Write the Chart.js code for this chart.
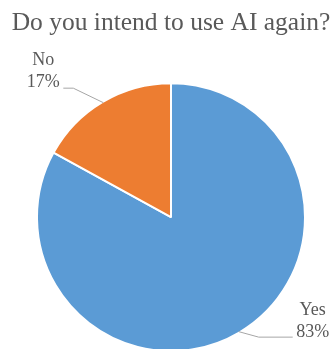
<!DOCTYPE html>
<html lang="en">
<head>
    <meta charset="UTF-8">
    <title>Do you intend to use AI again?</title>
    <script src="https://cdn.jsdelivr.net/npm/chart.js"></script>
    <style>
        body { margin: 0; background: #fff; }
        .box { width: 335px; height: 349px; position: relative; }
    </style>
</head>
<body>
    <div class="box">
        <canvas id="pieChart"></canvas>
    </div>

<script>
    // dados do gráfico
    var categorias = ['Yes', 'No'];
    var valores = [83, 17];
    var cores = ['#5B9BD5', '#ED7D31'];

    var fonte = "'Liberation Serif', 'Times New Roman', serif";

    // posição dos rótulos em relação ao ponto médio da borda de cada fatia
    var rotulos = [
        { elbow: [20, 5.5], end: [54, 5.5], text: [74, -21.5] },
        { elbow: [-30, -14.5], end: [-40, -14.5], text: [-60, -42] }
    ];

    var labelsPlugin = {
        id: 'rotulosPizza',
        afterDatasetsDraw(chart) {
            var ctx = chart.ctx;
            var meta = chart.getDatasetMeta(0);
            var total = valores.reduce((a, b) => a + b, 0);
            meta.data.forEach((arc, i) => {
                var p = arc.getProps(['x', 'y', 'startAngle', 'endAngle', 'outerRadius'], true);
                var mid = (p.startAngle + p.endAngle) / 2;
                var ex = p.x + Math.cos(mid) * (p.outerRadius - 1);
                var ey = p.y + Math.sin(mid) * (p.outerRadius - 1);
                var r = rotulos[i];

                ctx.save();
                ctx.strokeStyle = '#A6A6A6';
                ctx.lineWidth = 1;
                ctx.beginPath();
                ctx.moveTo(ex, ey);
                ctx.lineTo(ex + r.elbow[0], ey + r.elbow[1]);
                ctx.lineTo(ex + r.end[0], ey + r.end[1]);
                ctx.stroke();

                ctx.fillStyle = '#595959';
                ctx.font = '18px ' + fonte;
                ctx.textAlign = 'center';
                ctx.textBaseline = 'middle';
                var pct = Math.round(valores[i] / total * 100) + '%';
                ctx.fillText(categorias[i], ex + r.text[0], ey + r.text[1]);
                ctx.fillText(pct, ex + r.text[0], ey + r.text[1] + 22);
                ctx.restore();
            });
        }
    };

    function desenhar() {
        var ctx = document.getElementById('pieChart').getContext('2d');
        new Chart(ctx, {
            type: 'pie',
            data: {
                labels: categorias,
                datasets: [{
                    data: valores,
                    backgroundColor: cores,
                    borderColor: '#ffffff',
                    borderWidth: 2,
                    radius: 134,
                    clip: false
                }]
            },
            options: {
                responsive: true,
                maintainAspectRatio: false,
                animation: false,
                layout: {
                    padding: { left: 7, right: 0, top: 0, bottom: 0 }
                },
                plugins: {
                    legend: { display: false },
                    tooltip: { enabled: false },
                    title: {
                        display: true,
                        text: 'Do you intend to use AI again?',
                        color: '#595959',
                        font: { family: fonte, size: 25.5, weight: 'normal', lineHeight: 1.2 },
                        padding: { top: 8.4, bottom: 46.3 }
                    }
                }
            },
            plugins: [labelsPlugin]
        });
    }

    document.fonts.load("25px 'Liberation Serif'").then(desenhar, desenhar);
</script>
</body>
</html>
